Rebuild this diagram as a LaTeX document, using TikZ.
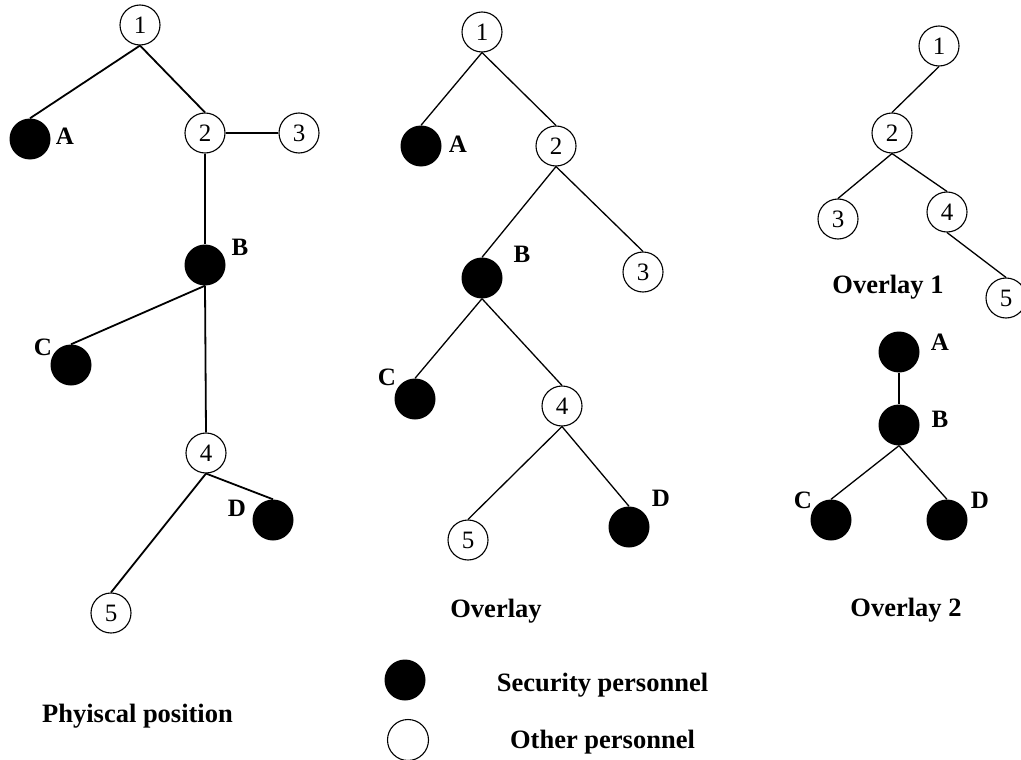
\documentclass[tikz,border=0pt]{standalone}
\usepackage{fontspec}
\setmainfont{Liberation Serif}
\begin{document}
\begin{tikzpicture}[x=1pt,y=-1pt,
  wnode/.style={circle,draw=black,line width=1.1pt,fill=white,minimum size=40pt,inner sep=0pt,
                font=\fontsize{25}{25}\selectfont},
  bnode/.style={circle,fill=black,minimum size=41pt,inner sep=0pt},
  lbl/.style={anchor=base,inner sep=0pt,font=\fontsize{25}{25}\selectfont\bfseries},
  captext/.style={anchor=base,inner sep=0pt,font=\fontsize{26.5}{30}\selectfont\bfseries},
  thick edge/.style={line width=1.8pt},
  thin edge/.style={line width=1.3pt}]
\useasboundingbox (0,0) rectangle (1021,760);

% ---- Physical position ----
\node[wnode] (p1) at (140,25) {1};
\node[bnode] (pA) at (30,139) {};
\node[wnode] (p2) at (205,133) {2};
\node[wnode] (p3) at (299,133) {3};
\node[bnode] (pB) at (205,265) {};
\node[bnode] (pC) at (71,365) {};
\node[wnode] (p4) at (206,453) {4};
\node[bnode] (pD) at (273,520) {};
\node[wnode] (p5) at (111,613) {5};
\node[lbl] (plA) at (65,144) {A};
\node[lbl] (plB) at (240,255) {B};
\node[lbl] (plC) at (43,355) {C};
\node[lbl] (plD) at (237,516) {D};
\node[captext] (pcap) at (137.5,722) {Phyiscal position};
\begin{scope}[thick edge]
  \draw (p1.south) -- (pA.north);
  \draw (p1.south) -- (p2.north);
  \draw (p2.east) -- (p3.west);
  \draw (p2.south) -- (pB.north);
  \draw (pB.south) -- (pC.north);
  \draw (pB.south) -- (p4.north);
  \draw (p4.south) -- (pD.north);
  \draw (p4.south) -- (p5.north);
\end{scope}

% ---- Overlay ----
\node[wnode] (o1) at (482,32) {1};
\node[bnode] (oA) at (421,146) {};
\node[wnode] (o2) at (556,146) {2};
\node[bnode] (oB) at (482,278) {};
\node[wnode] (o3) at (643,272) {3};
\node[bnode] (oC) at (415,399) {};
\node[wnode] (o4) at (562,406) {4};
\node[bnode] (oD) at (629,527) {};
\node[wnode] (o5) at (468,540) {5};
\node[lbl] (olA) at (458,153) {A};
\node[lbl] (olB) at (522,262) {B};
\node[lbl] (olC) at (387,385) {C};
\node[lbl] (olD) at (661,506) {D};
\node[captext] (ocap) at (496,617) {Overlay};
\begin{scope}[thin edge]
  \draw (o1.south) -- (oA.north);
  \draw (o1.south) -- (o2.north);
  \draw (o2.south) -- (oB.north);
  \draw (o2.south) -- (o3.north);
  \draw (oB.south) -- (oC.north);
  \draw (oB.south) -- (o4.north);
  \draw (o4.south) -- (o5.north);
  \draw (o4.south) -- (oD.north);
\end{scope}

% ---- Overlay 1 ----
\node[wnode] (a1) at (939,46) {1};
\node[wnode] (a2) at (892,133) {2};
\node[wnode] (a3) at (838,219) {3};
\node[wnode] (a4) at (947,212) {4};
\node[wnode] (a5) at (1006,298) {5};
\node[captext] (acap) at (888,293) {Overlay 1};
\begin{scope}[thin edge]
  \draw (a1.south) -- (a2.north);
  \draw (a2.south) -- (a3.north);
  \draw (a2.south) -- (a4.north);
  \draw (a4.south) -- (a5.north);
\end{scope}

% ---- Overlay 2 ----
\node[bnode] (bA) at (899,352) {};
\node[bnode] (bB) at (899,425) {};
\node[bnode] (bC) at (831,520) {};
\node[bnode] (bD) at (947,520) {};
\node[lbl] (blA) at (940,350) {A};
\node[lbl] (blB) at (940,427) {B};
\node[lbl] (blC) at (803,508) {C};
\node[lbl] (blD) at (980,508) {D};
\node[captext] (bcap) at (906,616) {Overlay 2};
\begin{scope}[thin edge]
  \draw (bA.south) -- (bB.north);
  \draw (bB.south) -- (bC.north);
  \draw (bB.south) -- (bD.north);
\end{scope}

% ---- Legend ----
\node[bnode] (kB) at (405,680) {};
\node[wnode,minimum size=41pt] (kW) at (408,740) {};
\node[captext] (kBt) at (602.5,691) {Security personnel};
\node[captext] (kWt) at (602.5,748) {Other personnel};
\end{tikzpicture}
\end{document}
